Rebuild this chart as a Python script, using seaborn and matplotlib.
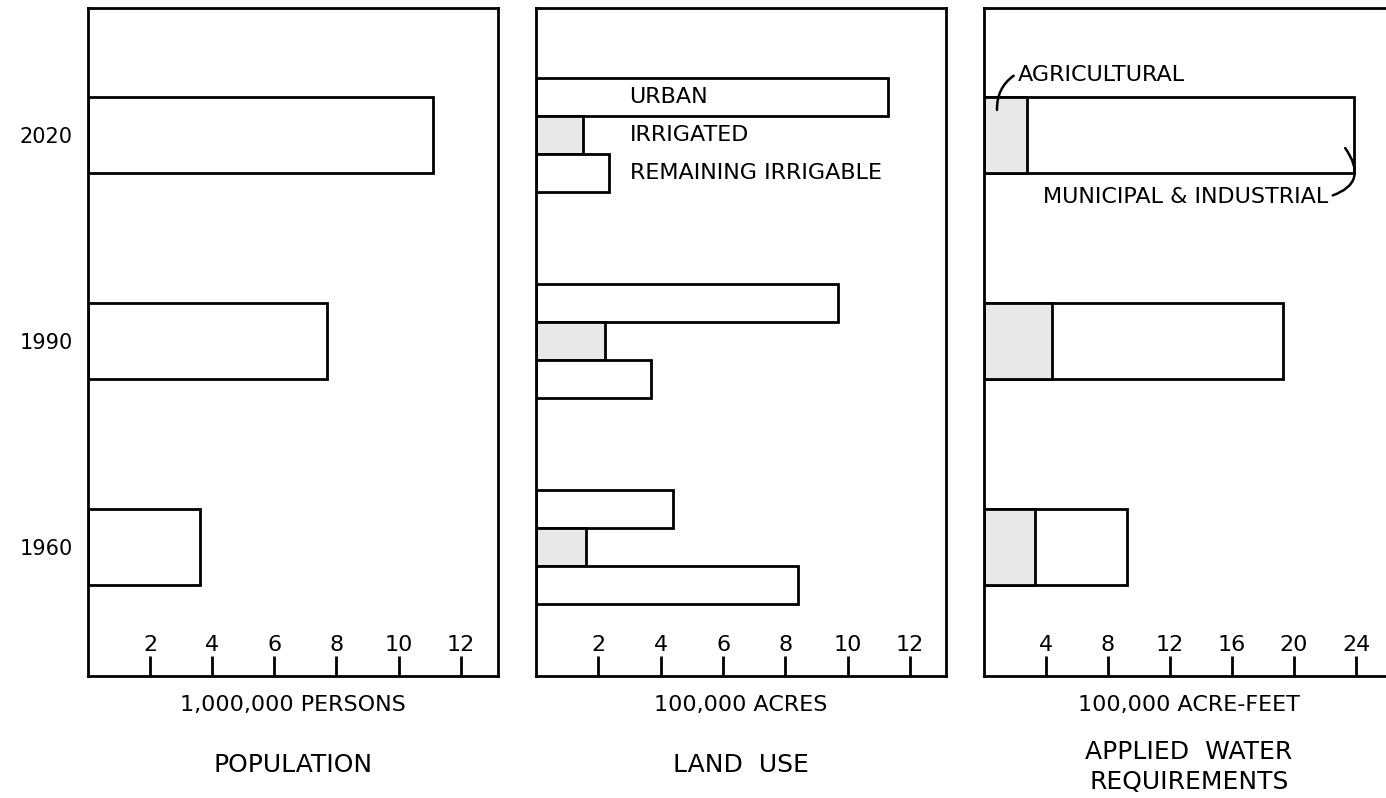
import matplotlib
matplotlib.use('Agg')
import matplotlib.pyplot as plt
import numpy as np
import pandas as pd
import seaborn as sns

# categories, top to bottom
years = ['2020', '1990', '1960']

# population, 1,000,000 persons
population = [11.1, 7.7, 3.6]

# land use, 100,000 acres
land_types = ['URBAN', 'IRRIGATED', 'REMAINING IRRIGABLE']
urban = [11.3, 9.7, 4.4]
irrigated = [1.5, 2.2, 1.6]
remaining = [2.35, 3.7, 8.4]

# applied water requirements, 100,000 acre-feet
agricultural = [2.8, 4.4, 3.3]
municipal = [21.1, 14.9, 5.9]

pop_ticks = [2, 4, 6, 8, 10, 12]
land_ticks = [2, 4, 6, 8, 10, 12]
water_ticks = [4, 8, 12, 16, 20, 24]

SHADE = '#e8e8e8'
LW = 2

sns.set_style('white')
plt.rcParams['font.family'] = ['DejaVu Sans']
plt.rcParams.update({'text.color': 'black', 'axes.labelcolor': 'black',
                     'xtick.color': 'black', 'ytick.color': 'black'})

W, H = 1386, 798
fig = plt.figure(figsize=(W / 100, H / 100), dpi=100)


def add_panel(left_px):
    return fig.add_axes([left_px / W, 122 / H, 410 / W, 668 / H])


ax1 = add_panel(88)
ax2 = add_panel(536)
ax3 = add_panel(984)

bar_kw = dict(orient='h', order=years, edgecolor='black', linewidth=LW, saturation=1)

# population
pop_df = pd.DataFrame({'year': years, 'value': population})
sns.barplot(data=pop_df, x='value', y='year', color='white', width=0.37, ax=ax1, **bar_kw)

# land use, three bars per year
land_df = pd.DataFrame({
    'year': years * 3,
    'type': np.repeat(land_types, len(years)),
    'value': urban + irrigated + remaining,
})
sub_w = 0.55
sns.barplot(data=land_df, x='value', y='year', hue='type', hue_order=land_types,
            palette=['white', SHADE, 'white'], width=sub_w, dodge=True, legend=False,
            ax=ax2, **bar_kw)

# water, agricultural stacked under municipal & industrial
water_df = pd.DataFrame({'year': years, 'agri': agricultural,
                         'total': np.add(agricultural, municipal)})
sns.barplot(data=water_df, x='total', y='year', color='white', width=0.37, ax=ax3, **bar_kw)
sns.barplot(data=water_df, x='agri', y='year', color=SHADE, width=0.37, ax=ax3, **bar_kw)

for ax, xmax, ticks in [(ax1, 13.2, pop_ticks), (ax2, 13.15, land_ticks), (ax3, 26.45, water_ticks)]:
    ax.set_xlim(0, xmax)
    ax.set_ylim(2.626, -0.617)
    ax.set_xticks(ticks)
    ax.set_xticklabels([str(t) for t in ticks])
    ax.tick_params(axis='x', direction='in', bottom=True, length=14.4, width=LW,
                   pad=-18, labelsize=16)
    for lbl in ax.get_xticklabels():
        lbl.set_verticalalignment('baseline')
    ax.tick_params(axis='y', left=False, length=0)
    ax.set_ylabel('')
    for s in ax.spines.values():
        s.set_visible(True)
        s.set_color('black')
        s.set_linewidth(LW)

ax1.tick_params(axis='y', labelsize=15, pad=11)
ax2.set_yticklabels([])
ax3.set_yticklabels([])

ax1.set_xlabel('1,000,000 PERSONS', fontsize=16, labelpad=14)
ax2.set_xlabel('100,000 ACRES', fontsize=16, labelpad=14)
ax3.set_xlabel('100,000 ACRE-FEET', fontsize=16, labelpad=14)

ax1.text(0.5, -0.133, 'POPULATION', transform=ax1.transAxes, ha='center', va='center', fontsize=18)
ax2.text(0.5, -0.133, 'LAND  USE', transform=ax2.transAxes, ha='center', va='center', fontsize=18)
ax3.text(0.5, -0.136, 'APPLIED  WATER\nREQUIREMENTS', transform=ax3.transAxes,
         ha='center', va='center', fontsize=18, linespacing=1.3)

# land use labels next to the 2020 group
y2020 = years.index('2020')
for i, name in enumerate(land_types):
    ax2.text(3.0, y2020 + (i - 1) * sub_w / 3, name, ha='left', va='center', fontsize=16)

# water labels with leaders
ax3.annotate('AGRICULTURAL', xy=(0.84, -0.122), xytext=(2.2, -0.292),
             ha='left', va='center', fontsize=16,
             arrowprops=dict(arrowstyle='-', lw=1.8, color='black', relpos=(0, 0.6),
                             shrinkA=1, shrinkB=0, connectionstyle='arc3,rad=0.3'))
ax3.annotate('MUNICIPAL & INDUSTRIAL', xy=(23.3, 0.063), xytext=(13.0, 0.30),
             ha='center', va='center', fontsize=16,
             arrowprops=dict(arrowstyle='-', lw=1.8, color='black', relpos=(1, 0.5),
                             shrinkA=1, shrinkB=0, connectionstyle='arc3,rad=0.7'))

plt.savefig('out.png', dpi=100)
